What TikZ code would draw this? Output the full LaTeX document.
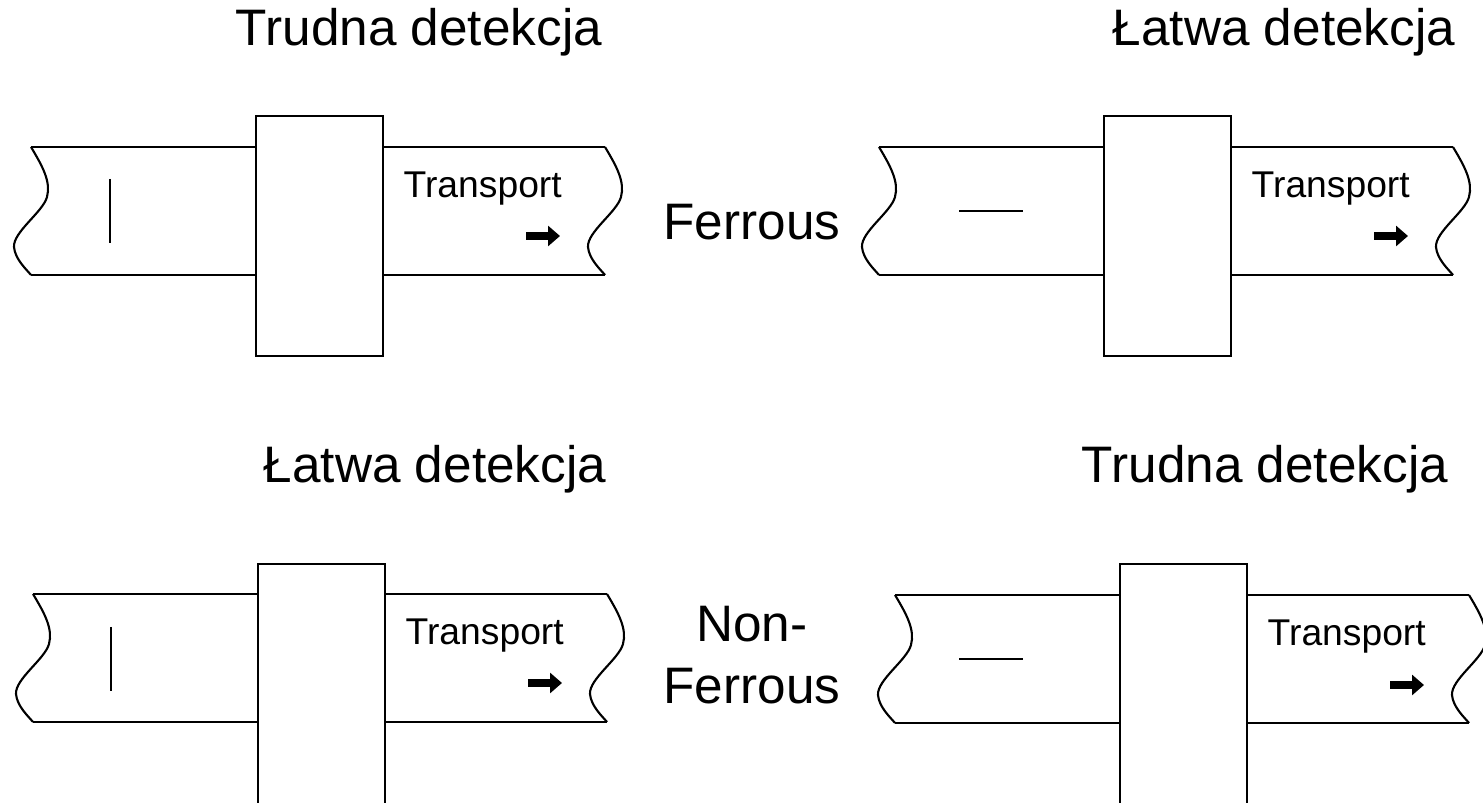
\documentclass[tikz,border=0pt]{standalone}
\usepackage{fontspec}
\setmainfont{Liberation Sans}
\usetikzlibrary{arrows.meta}

\tikzset{
    belt/.style={line width=0.6pt},
    wave/.pic={
        \draw[belt] (0,0) .. controls (0.12,-0.2) and (0.2,-0.35) .. (0.16,-0.5)
            .. controls (0.12,-0.65) and (-0.18,-0.85) .. (-0.17,-1.0)
            .. controls (-0.16,-1.12) and (-0.05,-1.22) .. (0,-1.28);
    },
    sensor/.style={draw, line width=0.6pt, fill=white, anchor=north west,
        minimum width=1.27cm, minimum height=2.4cm, inner sep=0pt},
    heading/.style={font=\fontsize{14.6}{17.9}\selectfont, inner sep=0pt},
    label/.style={font=\fontsize{10.6}{12}\selectfont, inner sep=0pt, anchor=base west},
    mover/.style={line width=0.08cm, -{Triangle[length=0.12cm, width=0.2cm]}}
}

\begin{document}
\begin{tikzpicture}
            \useasboundingbox (0,0) rectangle (14.83,-8.03);

            \node[heading, anchor=base] (hard1) at (4.19,-0.46) {Trudna detekcja};
            \node[heading, anchor=base] (easy1) at (12.84,-0.46) {Łatwa detekcja};
            \node[heading, anchor=base] (easy2) at (4.35,-4.83) {Łatwa detekcja};
            \node[heading, anchor=base] (hard2) at (12.65,-4.83) {Trudna detekcja};
            \node[heading, anchor=base] (ferrous) at (7.52,-2.40) {Ferrous};
            \node[heading, anchor=base, align=center] (nonferrous) at (7.52,-7.04) {Non-\\Ferrous};

            %ferrous, vertical piece
            \begin{scope}[shift={(0.31,-1.47)}]
                \draw[belt] (0,0) -- (5.74,0);
                \draw[belt] (0,-1.28) -- (5.74,-1.28);
                \pic at (0,0) {wave};
                \pic at (5.74,0) {wave};
                \draw[belt] (0.79,-0.32) -- (0.79,-0.96);
                \node[sensor] (coil1) at (2.24,0.32) {};
                \node[label] (transport1) at (3.72,-0.51) {Transport};
                \coordinate (from1) at (4.95,-0.89);
                \coordinate (to1) at (5.29,-0.89);
                \draw[mover] (from1) -- (to1);
            \end{scope}

            %ferrous, horizontal piece
            \begin{scope}[shift={(8.79,-1.47)}]
                \draw[belt] (0,0) -- (5.74,0);
                \draw[belt] (0,-1.28) -- (5.74,-1.28);
                \pic at (0,0) {wave};
                \pic at (5.74,0) {wave};
                \draw[belt] (0.80,-0.64) -- (1.44,-0.64);
                \node[sensor] (coil2) at (2.24,0.32) {};
                \node[label] (transport2) at (3.72,-0.51) {Transport};
                \coordinate (from2) at (4.95,-0.89);
                \coordinate (to2) at (5.29,-0.89);
                \draw[mover] (from2) -- (to2);
            \end{scope}

            %non-ferrous, vertical piece
            \begin{scope}[shift={(0.33,-5.94)}]
                \draw[belt] (0,0) -- (5.74,0);
                \draw[belt] (0,-1.28) -- (5.74,-1.28);
                \pic at (0,0) {wave};
                \pic at (5.74,0) {wave};
                \draw[belt] (0.78,-0.33) -- (0.78,-0.97);
                \node[sensor] (coil3) at (2.24,0.31) {};
                \node[label] (transport3) at (3.72,-0.51) {Transport};
                \coordinate (from3) at (4.95,-0.89);
                \coordinate (to3) at (5.29,-0.89);
                \draw[mover] (from3) -- (to3);
            \end{scope}

            %non-ferrous, horizontal piece
            \begin{scope}[shift={(8.95,-5.95)}]
                \draw[belt] (0,0) -- (5.74,0);
                \draw[belt] (0,-1.28) -- (5.74,-1.28);
                \pic at (0,0) {wave};
                \pic at (5.74,0) {wave};
                \draw[belt] (0.64,-0.64) -- (1.28,-0.64);
                \node[sensor] (coil4) at (2.24,0.32) {};
                \node[label] (transport4) at (3.72,-0.51) {Transport};
                \coordinate (from4) at (4.95,-0.90);
                \coordinate (to4) at (5.29,-0.90);
                \draw[mover] (from4) -- (to4);
            \end{scope}
        \end{tikzpicture}
\end{document}
